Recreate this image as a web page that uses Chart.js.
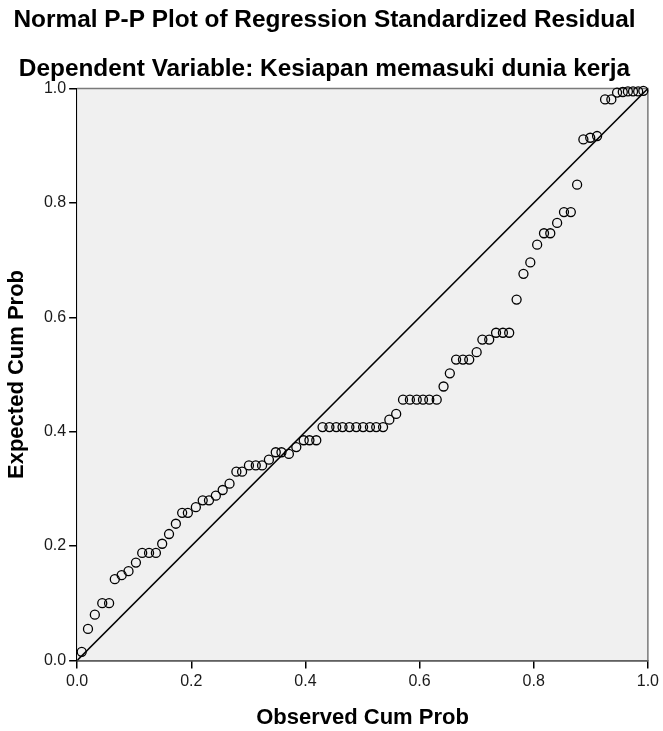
<!DOCTYPE html>
<html>
<head>
<meta charset="utf-8">
<script src="https://cdn.jsdelivr.net/npm/chart.js@4.4.0/dist/chart.umd.min.js"></script>
<style>
  html, body { margin: 0; padding: 0; background: #fff; }
  #wrap { width: 663px; height: 731px; }
</style>
</head>
<body>
<div id="wrap"><canvas id="ppPlot"></canvas></div>
<script>
// ===================
// Data
// ===================
const observedCumProb = [
  0.008, 0.019, 0.031, 0.044, 0.056, 0.066, 0.078, 0.090, 0.103, 0.114,
  0.126, 0.138, 0.149, 0.161, 0.173, 0.184, 0.194, 0.208, 0.220, 0.231,
  0.243, 0.255, 0.267, 0.279, 0.289, 0.301, 0.313, 0.324, 0.336, 0.348,
  0.358, 0.371, 0.384, 0.397, 0.407, 0.419, 0.430, 0.442, 0.454, 0.465,
  0.477, 0.489, 0.501, 0.513, 0.524, 0.536, 0.547, 0.559, 0.571, 0.583,
  0.595, 0.606, 0.617, 0.630, 0.642, 0.653, 0.664, 0.676, 0.687, 0.700,
  0.710, 0.722, 0.734, 0.746, 0.757, 0.770, 0.782, 0.794, 0.806, 0.818,
  0.829, 0.841, 0.853, 0.865, 0.876, 0.887, 0.899, 0.911, 0.925, 0.936,
  0.946, 0.956, 0.965, 0.974, 0.983, 0.992
];
const expectedCumProb = [
  0.015, 0.055, 0.080, 0.100, 0.100, 0.142, 0.149, 0.156, 0.171, 0.188,
  0.188, 0.188, 0.204, 0.221, 0.239, 0.258, 0.258, 0.268, 0.280, 0.280,
  0.288, 0.298, 0.309, 0.330, 0.330, 0.341, 0.341, 0.341, 0.351, 0.364,
  0.364, 0.361, 0.373, 0.385, 0.385, 0.385, 0.408, 0.408, 0.408, 0.408,
  0.408, 0.408, 0.408, 0.408, 0.408, 0.408, 0.421, 0.431, 0.456, 0.456,
  0.456, 0.456, 0.456, 0.456, 0.479, 0.502, 0.526, 0.526, 0.526, 0.539,
  0.561, 0.561, 0.573, 0.573, 0.573, 0.631, 0.676, 0.696, 0.727, 0.747,
  0.747, 0.765, 0.784, 0.784, 0.832, 0.911, 0.914, 0.917, 0.981, 0.981,
  0.993, 0.994, 0.995, 0.995, 0.995, 0.996
];
const refLine = [0, 1];
const tickValues = [0, 0.2, 0.4, 0.6, 0.8, 1.0];
const tickLabels = ['0.0', '0.2', '0.4', '0.6', '0.8', '1.0'];

const points = observedCumProb.map((x, i) => ({ x: x, y: expectedCumProb[i] }));
const diagonal = refLine.map(v => ({ x: v, y: v }));

// grey plot background + top/right frame
const plotFrame = {
  id: 'plotFrame',
  beforeDatasetsDraw(chart) {
    const { ctx, chartArea: a } = chart;
    ctx.save();
    ctx.fillStyle = '#f0f0f0';
    ctx.fillRect(a.left, a.top, a.right - a.left, a.bottom - a.top);
    ctx.strokeStyle = '#7a7a7a';
    ctx.lineWidth = 1.5;
    ctx.beginPath();
    ctx.moveTo(a.left, a.top);
    ctx.lineTo(a.right, a.top);
    ctx.lineTo(a.right, a.bottom);
    ctx.stroke();
    ctx.restore();
  }
};

const fontFamily = "'Liberation Sans', Arial, sans-serif";
const setTicks = axis => { axis.ticks = tickValues.map(v => ({ value: v })); };

const axisOpts = (titleText, titlePad) => ({
  type: 'linear',
  min: 0,
  max: 1,
  afterBuildTicks: setTicks,
  border: { display: true, color: '#000', width: 1.5 },
  grid: { drawOnChartArea: false, drawTicks: true, tickLength: 8, color: '#000', lineWidth: 1.5 },
  ticks: {
    color: '#1a1a1a',
    padding: 3,
    font: { family: fontFamily, size: 16 },
    callback: (v, i) => tickLabels[i]
  },
  title: {
    display: true,
    text: titleText,
    color: '#000',
    font: { family: fontFamily, size: 22, weight: 'bold' },
    padding: titlePad
  }
});

const xAxis = axisOpts('Observed Cum Prob', { top: 9, bottom: 0 });
xAxis.ticks.padding = 4;
const yAxis = axisOpts('Expected Cum Prob', { top: 4, bottom: 10.5 });

new Chart(document.getElementById('ppPlot'), {
  type: 'scatter',
  data: {
    datasets: [
      {
        label: 'Residual',
        data: points,
        pointStyle: 'circle',
        pointRadius: 4.5,
        pointHoverRadius: 4.5,
        pointBorderWidth: 1.3,
        pointBorderColor: '#000',
        pointBackgroundColor: 'rgba(0,0,0,0)',
        clip: false,
        order: 1
      },
      {
        type: 'line',
        label: 'Diagonal',
        data: diagonal,
        borderColor: '#000',
        borderWidth: 1.5,
        pointRadius: 0,
        fill: false,
        order: 2
      }
    ]
  },
  options: {
    responsive: true,
    maintainAspectRatio: false,
    animation: false,
    layout: { padding: { top: 0, right: 14, bottom: 0, left: 0 } },
    plugins: {
      legend: { display: false },
      tooltip: { enabled: false },
      title: {
        display: true,
        text: 'Normal P-P Plot of Regression Standardized Residual',
        color: '#000',
        font: { family: fontFamily, size: 24.4, weight: 'bold' },
        padding: { top: 6, bottom: 19 }
      },
      subtitle: {
        display: true,
        text: 'Dependent Variable: Kesiapan memasuki dunia kerja',
        color: '#000',
        font: { family: fontFamily, size: 24.4, weight: 'bold' },
        padding: { top: 0, bottom: 5 }
      }
    },
    scales: { x: xAxis, y: yAxis }
  },
  plugins: [plotFrame]
});
</script>
</body>
</html>
